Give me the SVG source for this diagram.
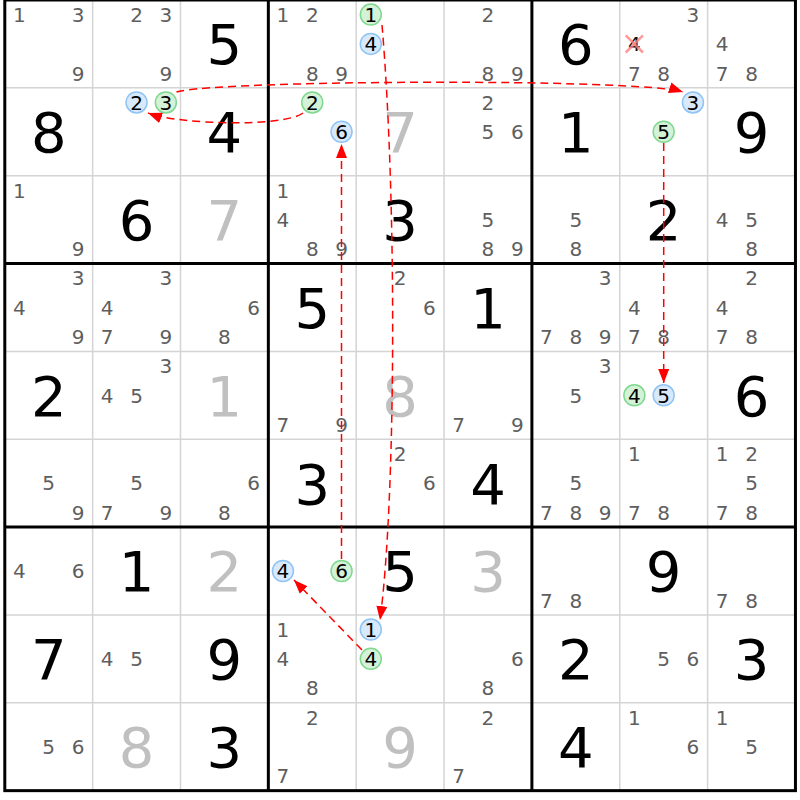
<svg xmlns="http://www.w3.org/2000/svg" width="800" height="800" viewBox="0 0 800 800">
<style>
text { font-family: "DejaVu Sans", Verdana, sans-serif; text-anchor: middle; }
.c { font-size: 20px; fill: #5e5e5e; }
.g { font-size: 56px; fill: #000; }
.s { font-size: 56px; fill: #c0c0c0; }
.h { font-size: 20px; fill: #000; }
.x { font-size: 20px; fill: #111; }
.cb { fill: #d8e9fb; stroke: #90c4f4; stroke-width: 1.5; }
.cg { fill: #d4f2d8; stroke: #80d890; stroke-width: 1.5; }
.thin { stroke: #d4d4d4; stroke-width: 1.5; }
.thick { stroke: #000; stroke-width: 3; fill: none; }
.link { fill: none; stroke: #f00; stroke-width: 1.5; stroke-dasharray: 8 5; marker-end: url(#ah); }
.kill { stroke: #ff7f7f; stroke-width: 2.5; stroke-opacity: 0.8; }
</style>
<defs>
<marker id="ah" markerUnits="userSpaceOnUse" markerWidth="14" markerHeight="11" refX="14" refY="5.5" orient="auto">
<path d="M0,0 L14,5.5 L0,11 z" fill="#f00"/>
</marker>
</defs>
<rect x="0" y="0" width="800" height="800" fill="#fff"/>
<g id="grid">
<g class="thin">
<line x1="92.65" y1="0" x2="92.65" y2="790.65"/>
<line x1="180.5" y1="0" x2="180.5" y2="790.65"/>
<line x1="356.2" y1="0" x2="356.2" y2="790.65"/>
<line x1="444.05" y1="0" x2="444.05" y2="790.65"/>
<line x1="619.75" y1="0" x2="619.75" y2="790.65"/>
<line x1="707.6" y1="0" x2="707.6" y2="790.65"/>
<line x1="4.8" y1="87.85" x2="795.45" y2="87.85"/>
<line x1="4.8" y1="175.7" x2="795.45" y2="175.7"/>
<line x1="4.8" y1="351.4" x2="795.45" y2="351.4"/>
<line x1="4.8" y1="439.25" x2="795.45" y2="439.25"/>
<line x1="4.8" y1="614.95" x2="795.45" y2="614.95"/>
<line x1="4.8" y1="702.8" x2="795.45" y2="702.8"/>
</g>
<g class="thick">
<rect x="4.8" y="0" width="790.65" height="790.65"/>
<line x1="268.35" y1="0" x2="268.35" y2="790.65"/>
<line x1="531.9" y1="0" x2="531.9" y2="790.65"/>
<line x1="4.8" y1="263.55" x2="795.45" y2="263.55"/>
<line x1="4.8" y1="527.1" x2="795.45" y2="527.1"/>
</g>
</g>

<!-- Row 0 -->
<g id="r0c0" transform="translate(4.8,0)"><text class="c" x="14.6" y="21.9">1</text><text class="c" x="73.2" y="21.9">3</text><text class="c" x="73.2" y="80.5">9</text></g>
<g id="r0c1" transform="translate(92.65,0)"><text class="c" x="43.9" y="21.9">2</text><text class="c" x="73.2" y="21.9">3</text><text class="c" x="73.2" y="80.5">9</text></g>
<g id="r0c2" transform="translate(180.5,0)"><text class="g" x="43.9" y="64.3">5</text></g>
<g id="r0c3" transform="translate(268.35,0)"><text class="c" x="14.6" y="21.9">1</text><text class="c" x="43.9" y="21.9">2</text><text class="c" x="43.9" y="80.5">8</text><text class="c" x="73.2" y="80.5">9</text></g>
<g id="r0c4" transform="translate(356.2,0)"><circle class="cg" cx="14.6" cy="14.6" r="10.5"/><text class="h" x="14.6" y="21.9">1</text><circle class="cb" cx="14.6" cy="43.9" r="10.5"/><text class="h" x="14.6" y="51.2">4</text></g>
<g id="r0c5" transform="translate(444.05,0)"><text class="c" x="43.9" y="21.9">2</text><text class="c" x="43.9" y="80.5">8</text><text class="c" x="73.2" y="80.5">9</text></g>
<g id="r0c6" transform="translate(531.9,0)"><text class="g" x="43.9" y="64.3">6</text></g>
<g id="r0c7" transform="translate(619.75,0)"><text class="c" x="73.2" y="21.9">3</text><text class="x" x="14.6" y="51.2">4</text><line class="kill" x1="6" y1="35.3" x2="23.2" y2="52.5"/><line class="kill" x1="23.2" y1="35.3" x2="6" y2="52.5"/><text class="c" x="14.6" y="80.5">7</text><text class="c" x="43.9" y="80.5">8</text></g>
<g id="r0c8" transform="translate(707.6,0)"><text class="c" x="14.6" y="51.2">4</text><text class="c" x="14.6" y="80.5">7</text><text class="c" x="43.9" y="80.5">8</text></g>

<!-- Row 1 -->
<g id="r1c0" transform="translate(4.8,87.85)"><text class="g" x="43.9" y="64.3">8</text></g>
<g id="r1c1" transform="translate(92.65,87.85)"><circle class="cb" cx="43.9" cy="14.6" r="10.5"/><text class="h" x="43.9" y="21.9">2</text><circle class="cg" cx="73.2" cy="14.6" r="10.5"/><text class="h" x="73.2" y="21.9">3</text></g>
<g id="r1c2" transform="translate(180.5,87.85)"><text class="g" x="43.9" y="64.3">4</text></g>
<g id="r1c3" transform="translate(268.35,87.85)"><circle class="cg" cx="43.9" cy="14.6" r="10.5"/><text class="h" x="43.9" y="21.9">2</text><circle class="cb" cx="73.2" cy="43.9" r="10.5"/><text class="h" x="73.2" y="51.2">6</text></g>
<g id="r1c4" transform="translate(356.2,87.85)"><text class="s" x="43.9" y="64.3">7</text></g>
<g id="r1c5" transform="translate(444.05,87.85)"><text class="c" x="43.9" y="21.9">2</text><text class="c" x="43.9" y="51.2">5</text><text class="c" x="73.2" y="51.2">6</text></g>
<g id="r1c6" transform="translate(531.9,87.85)"><text class="g" x="43.9" y="64.3">1</text></g>
<g id="r1c7" transform="translate(619.75,87.85)"><circle class="cb" cx="73.2" cy="14.6" r="10.5"/><text class="h" x="73.2" y="21.9">3</text><circle class="cg" cx="43.9" cy="43.9" r="10.5"/><text class="h" x="43.9" y="51.2">5</text></g>
<g id="r1c8" transform="translate(707.6,87.85)"><text class="g" x="43.9" y="64.3">9</text></g>

<!-- Row 2 -->
<g id="r2c0" transform="translate(4.8,175.7)"><text class="c" x="14.6" y="21.9">1</text><text class="c" x="73.2" y="80.5">9</text></g>
<g id="r2c1" transform="translate(92.65,175.7)"><text class="g" x="43.9" y="64.3">6</text></g>
<g id="r2c2" transform="translate(180.5,175.7)"><text class="s" x="43.9" y="64.3">7</text></g>
<g id="r2c3" transform="translate(268.35,175.7)"><text class="c" x="14.6" y="21.9">1</text><text class="c" x="14.6" y="51.2">4</text><text class="c" x="43.9" y="80.5">8</text><text class="c" x="73.2" y="80.5">9</text></g>
<g id="r2c4" transform="translate(356.2,175.7)"><text class="g" x="43.9" y="64.3">3</text></g>
<g id="r2c5" transform="translate(444.05,175.7)"><text class="c" x="43.9" y="51.2">5</text><text class="c" x="43.9" y="80.5">8</text><text class="c" x="73.2" y="80.5">9</text></g>
<g id="r2c6" transform="translate(531.9,175.7)"><text class="c" x="43.9" y="51.2">5</text><text class="c" x="43.9" y="80.5">8</text></g>
<g id="r2c7" transform="translate(619.75,175.7)"><text class="g" x="43.9" y="64.3">2</text></g>
<g id="r2c8" transform="translate(707.6,175.7)"><text class="c" x="14.6" y="51.2">4</text><text class="c" x="43.9" y="51.2">5</text><text class="c" x="43.9" y="80.5">8</text></g>

<!-- Row 3 -->
<g id="r3c0" transform="translate(4.8,263.55)"><text class="c" x="73.2" y="21.9">3</text><text class="c" x="14.6" y="51.2">4</text><text class="c" x="73.2" y="80.5">9</text></g>
<g id="r3c1" transform="translate(92.65,263.55)"><text class="c" x="73.2" y="21.9">3</text><text class="c" x="14.6" y="51.2">4</text><text class="c" x="14.6" y="80.5">7</text><text class="c" x="73.2" y="80.5">9</text></g>
<g id="r3c2" transform="translate(180.5,263.55)"><text class="c" x="73.2" y="51.2">6</text><text class="c" x="43.9" y="80.5">8</text></g>
<g id="r3c3" transform="translate(268.35,263.55)"><text class="g" x="43.9" y="64.3">5</text></g>
<g id="r3c4" transform="translate(356.2,263.55)"><text class="c" x="43.9" y="21.9">2</text><text class="c" x="73.2" y="51.2">6</text></g>
<g id="r3c5" transform="translate(444.05,263.55)"><text class="g" x="43.9" y="64.3">1</text></g>
<g id="r3c6" transform="translate(531.9,263.55)"><text class="c" x="73.2" y="21.9">3</text><text class="c" x="14.6" y="80.5">7</text><text class="c" x="43.9" y="80.5">8</text><text class="c" x="73.2" y="80.5">9</text></g>
<g id="r3c7" transform="translate(619.75,263.55)"><text class="c" x="14.6" y="51.2">4</text><text class="c" x="14.6" y="80.5">7</text><text class="c" x="43.9" y="80.5">8</text></g>
<g id="r3c8" transform="translate(707.6,263.55)"><text class="c" x="43.9" y="21.9">2</text><text class="c" x="14.6" y="51.2">4</text><text class="c" x="14.6" y="80.5">7</text><text class="c" x="43.9" y="80.5">8</text></g>

<!-- Row 4 -->
<g id="r4c0" transform="translate(4.8,351.4)"><text class="g" x="43.9" y="64.3">2</text></g>
<g id="r4c1" transform="translate(92.65,351.4)"><text class="c" x="73.2" y="21.9">3</text><text class="c" x="14.6" y="51.2">4</text><text class="c" x="43.9" y="51.2">5</text></g>
<g id="r4c2" transform="translate(180.5,351.4)"><text class="s" x="43.9" y="64.3">1</text></g>
<g id="r4c3" transform="translate(268.35,351.4)"><text class="c" x="14.6" y="80.5">7</text><text class="c" x="73.2" y="80.5">9</text></g>
<g id="r4c4" transform="translate(356.2,351.4)"><text class="s" x="43.9" y="64.3">8</text></g>
<g id="r4c5" transform="translate(444.05,351.4)"><text class="c" x="14.6" y="80.5">7</text><text class="c" x="73.2" y="80.5">9</text></g>
<g id="r4c6" transform="translate(531.9,351.4)"><text class="c" x="73.2" y="21.9">3</text><text class="c" x="43.9" y="51.2">5</text></g>
<g id="r4c7" transform="translate(619.75,351.4)"><circle class="cg" cx="14.6" cy="43.9" r="10.5"/><text class="h" x="14.6" y="51.2">4</text><circle class="cb" cx="43.9" cy="43.9" r="10.5"/><text class="h" x="43.9" y="51.2">5</text></g>
<g id="r4c8" transform="translate(707.6,351.4)"><text class="g" x="43.9" y="64.3">6</text></g>

<!-- Row 5 -->
<g id="r5c0" transform="translate(4.8,439.25)"><text class="c" x="43.9" y="51.2">5</text><text class="c" x="73.2" y="80.5">9</text></g>
<g id="r5c1" transform="translate(92.65,439.25)"><text class="c" x="43.9" y="51.2">5</text><text class="c" x="14.6" y="80.5">7</text><text class="c" x="73.2" y="80.5">9</text></g>
<g id="r5c2" transform="translate(180.5,439.25)"><text class="c" x="73.2" y="51.2">6</text><text class="c" x="43.9" y="80.5">8</text></g>
<g id="r5c3" transform="translate(268.35,439.25)"><text class="g" x="43.9" y="64.3">3</text></g>
<g id="r5c4" transform="translate(356.2,439.25)"><text class="c" x="43.9" y="21.9">2</text><text class="c" x="73.2" y="51.2">6</text></g>
<g id="r5c5" transform="translate(444.05,439.25)"><text class="g" x="43.9" y="64.3">4</text></g>
<g id="r5c6" transform="translate(531.9,439.25)"><text class="c" x="43.9" y="51.2">5</text><text class="c" x="14.6" y="80.5">7</text><text class="c" x="43.9" y="80.5">8</text><text class="c" x="73.2" y="80.5">9</text></g>
<g id="r5c7" transform="translate(619.75,439.25)"><text class="c" x="14.6" y="21.9">1</text><text class="c" x="14.6" y="80.5">7</text><text class="c" x="43.9" y="80.5">8</text></g>
<g id="r5c8" transform="translate(707.6,439.25)"><text class="c" x="14.6" y="21.9">1</text><text class="c" x="43.9" y="21.9">2</text><text class="c" x="43.9" y="51.2">5</text><text class="c" x="14.6" y="80.5">7</text><text class="c" x="43.9" y="80.5">8</text></g>

<!-- Row 6 -->
<g id="r6c0" transform="translate(4.8,527.1)"><text class="c" x="14.6" y="51.2">4</text><text class="c" x="73.2" y="51.2">6</text></g>
<g id="r6c1" transform="translate(92.65,527.1)"><text class="g" x="43.9" y="64.3">1</text></g>
<g id="r6c2" transform="translate(180.5,527.1)"><text class="s" x="43.9" y="64.3">2</text></g>
<g id="r6c3" transform="translate(268.35,527.1)"><circle class="cb" cx="14.6" cy="43.9" r="10.5"/><text class="h" x="14.6" y="51.2">4</text><circle class="cg" cx="73.2" cy="43.9" r="10.5"/><text class="h" x="73.2" y="51.2">6</text></g>
<g id="r6c4" transform="translate(356.2,527.1)"><text class="g" x="43.9" y="64.3">5</text></g>
<g id="r6c5" transform="translate(444.05,527.1)"><text class="s" x="43.9" y="64.3">3</text></g>
<g id="r6c6" transform="translate(531.9,527.1)"><text class="c" x="14.6" y="80.5">7</text><text class="c" x="43.9" y="80.5">8</text></g>
<g id="r6c7" transform="translate(619.75,527.1)"><text class="g" x="43.9" y="64.3">9</text></g>
<g id="r6c8" transform="translate(707.6,527.1)"><text class="c" x="14.6" y="80.5">7</text><text class="c" x="43.9" y="80.5">8</text></g>

<!-- Row 7 -->
<g id="r7c0" transform="translate(4.8,614.95)"><text class="g" x="43.9" y="64.3">7</text></g>
<g id="r7c1" transform="translate(92.65,614.95)"><text class="c" x="14.6" y="51.2">4</text><text class="c" x="43.9" y="51.2">5</text></g>
<g id="r7c2" transform="translate(180.5,614.95)"><text class="g" x="43.9" y="64.3">9</text></g>
<g id="r7c3" transform="translate(268.35,614.95)"><text class="c" x="14.6" y="21.9">1</text><text class="c" x="14.6" y="51.2">4</text><text class="c" x="43.9" y="80.5">8</text></g>
<g id="r7c4" transform="translate(356.2,614.95)"><circle class="cb" cx="14.6" cy="14.6" r="10.5"/><text class="h" x="14.6" y="21.9">1</text><circle class="cg" cx="14.6" cy="43.9" r="10.5"/><text class="h" x="14.6" y="51.2">4</text></g>
<g id="r7c5" transform="translate(444.05,614.95)"><text class="c" x="73.2" y="51.2">6</text><text class="c" x="43.9" y="80.5">8</text></g>
<g id="r7c6" transform="translate(531.9,614.95)"><text class="g" x="43.9" y="64.3">2</text></g>
<g id="r7c7" transform="translate(619.75,614.95)"><text class="c" x="43.9" y="51.2">5</text><text class="c" x="73.2" y="51.2">6</text></g>
<g id="r7c8" transform="translate(707.6,614.95)"><text class="g" x="43.9" y="64.3">3</text></g>

<!-- Row 8 -->
<g id="r8c0" transform="translate(4.8,702.8)"><text class="c" x="43.9" y="51.2">5</text><text class="c" x="73.2" y="51.2">6</text></g>
<g id="r8c1" transform="translate(92.65,702.8)"><text class="s" x="43.9" y="64.3">8</text></g>
<g id="r8c2" transform="translate(180.5,702.8)"><text class="g" x="43.9" y="64.3">3</text></g>
<g id="r8c3" transform="translate(268.35,702.8)"><text class="c" x="43.9" y="21.9">2</text><text class="c" x="14.6" y="80.5">7</text></g>
<g id="r8c4" transform="translate(356.2,702.8)"><text class="s" x="43.9" y="64.3">9</text></g>
<g id="r8c5" transform="translate(444.05,702.8)"><text class="c" x="43.9" y="21.9">2</text><text class="c" x="14.6" y="80.5">7</text></g>
<g id="r8c6" transform="translate(531.9,702.8)"><text class="g" x="43.9" y="64.3">4</text></g>
<g id="r8c7" transform="translate(619.75,702.8)"><text class="c" x="14.6" y="21.9">1</text><text class="c" x="73.2" y="51.2">6</text></g>
<g id="r8c8" transform="translate(707.6,702.8)"><text class="c" x="14.6" y="21.9">1</text><text class="c" x="43.9" y="51.2">5</text></g>

<g id="links">
<path class="link" d="M176.5,92 C215,80 640,78 683,92"/>
<path class="link" d="M303,113 C285,127 180,125 148,113"/>
<path class="link" d="M382,25 C397,200 396,500 380,620"/>
<path class="link" d="M341.5,559 L341.5,144"/>
<path class="link" d="M663.7,143 L663.7,383"/>
<path class="link" d="M362,650 L294,580"/>
</g>
</svg>
